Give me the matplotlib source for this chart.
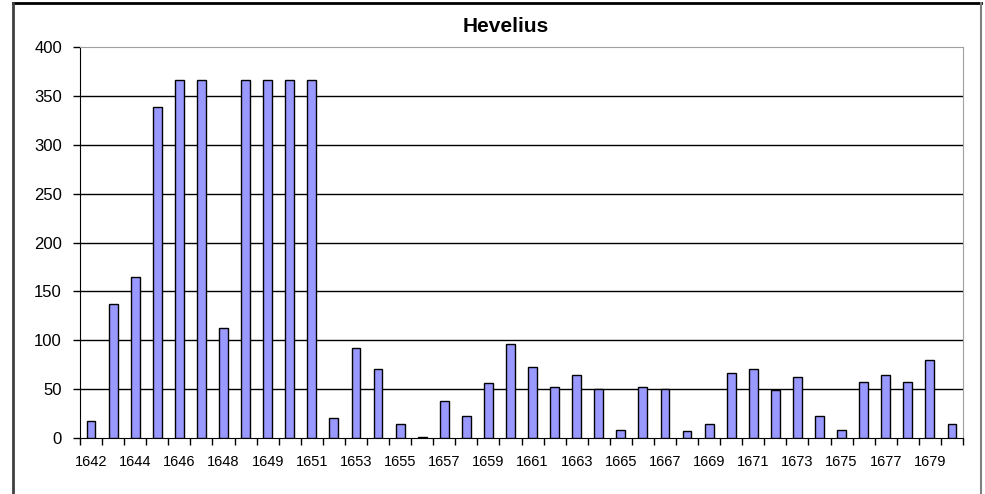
import numpy as np
import matplotlib.pyplot as plt
from matplotlib.lines import Line2D

plt.rcParams['font.family'] = ['Liberation Sans', 'DejaVu Sans']

# Datos (la categoria 1648 aparece dos veces)
anios = ['1642', '1643', '1644', '1645', '1646', '1647', '1648', '1648',
         '1649', '1650', '1651', '1652', '1653', '1654', '1655', '1656',
         '1657', '1658', '1659', '1660', '1661', '1662', '1663', '1664',
         '1665', '1666', '1667', '1668', '1669', '1670', '1671', '1672',
         '1673', '1674', '1675', '1676', '1677', '1678', '1679', '1680']
valores = [17, 137, 165, 339, 366, 366, 113, 366,
           366, 366, 366, 20, 92, 71, 14, 1,
           38, 23, 56, 96, 73, 52, 64, 50,
           8, 52, 50, 7, 14, 67, 71, 49,
           62, 22, 8, 57, 64, 57, 80, 14]
yticks = [0, 50, 100, 150, 200, 250, 300, 350, 400]

fig = plt.figure(figsize=(9.85, 4.94), dpi=100)
ax = fig.add_axes([80/985, 1-438/494, 883/985, 391/494])

x = np.arange(len(valores))
ax.bar(x, valores, width=0.4, color='#9999FF', edgecolor='black', linewidth=1.0, zorder=3)

ax.set_xlim(-0.5, len(valores) - 0.5)
ax.set_ylim(0, 400)

# lineas de division
for v in yticks[1:-1]:
    ax.axhline(v, color='black', linewidth=1.0, zorder=1)

ax.set_yticks(yticks)
ax.set_yticklabels([str(v) for v in yticks], fontsize=12)
ax.tick_params(axis='y', direction='out', length=5, width=1, pad=8)

# ticks en los limites de categoria, etiquetas cada dos
ax.set_xticks(np.arange(len(valores) + 1) - 0.5)
ax.set_xticklabels([])
ax.tick_params(axis='x', which='major', direction='out', length=5, width=1)
ax.set_xticks(x[::2], minor=True)
ax.set_xticklabels(anios[::2], minor=True, fontsize=10.5)
ax.tick_params(axis='x', which='minor', length=0, pad=12)

ax.spines['left'].set_color('black')
ax.spines['bottom'].set_color('black')
ax.spines['top'].set_color('#a0a0a0')
ax.spines['right'].set_color('#a0a0a0')

fig.text(506/985, 1-27/494, 'Hevelius', ha='center', va='center',
         fontsize=15, fontweight='bold')

# borde del area del grafico
fig.add_artist(Line2D([13/985, 981/985], [1-3/494, 1-3/494], color='black', linewidth=2))
fig.add_artist(Line2D([13/985, 13/985], [0, 1-3/494], color='#404040', linewidth=2))
fig.add_artist(Line2D([981/985, 981/985], [0, 1-3/494], color='#808080', linewidth=1.5))

plt.savefig('out.png', dpi=100)
